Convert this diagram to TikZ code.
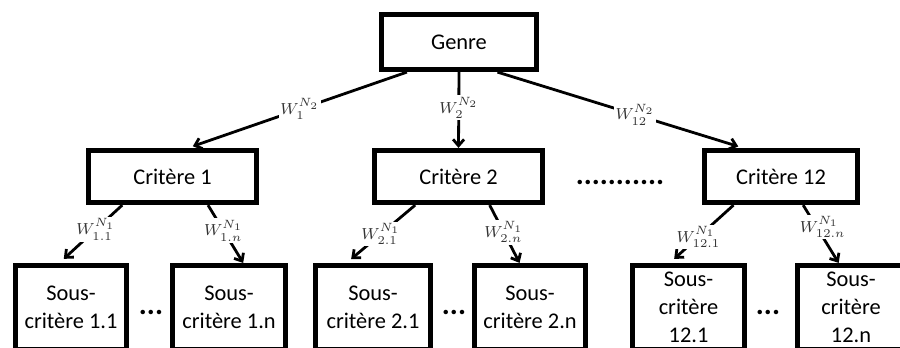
\documentclass[tikz,border=0pt]{standalone}
\usepackage{fontspec}
\setmainfont{Carlito}
\usetikzlibrary{calc,arrows.meta}
\begin{document}
\begin{tikzpicture}[x=0.5pt,y=-0.5pt,
  box/.style={draw,line width=2.6pt,rectangle,inner sep=1pt,align=center,
    font=\fontsize{11.2}{14}\selectfont},
  sub/.style={box,minimum height=42pt},
  conn/.style={line width=1.4pt,-{Straight Barb[length=3.2pt,width=5.5pt]}},
  wlab/.style={fill=white,inner sep=0.8pt,text=black!80,font=\fontsize{8.5}{9}\selectfont},
  dotsnode/.style={inner sep=0pt,font=\fontsize{15}{15}\selectfont\bfseries}]
\useasboundingbox (0,0) rectangle (900,348);
\clip (0,0) rectangle (900,348);
\node[box,minimum width=77.5pt,minimum height=27.5pt] (genre) at (459,42) {Genre};
\node[box,minimum width=84pt,minimum height=26pt] (c1) at (172.5,176.5) {Critère 1};
\node[box,minimum width=84pt,minimum height=26pt] (c2) at (458.5,176.5) {Critère 2};
\node[box,minimum width=76.5pt,minimum height=26pt] (c12) at (781,176.5) {Critère 12};
\node[dotsnode] (bigdots) at (620,182) {...........};
\node[sub,minimum width=55.5pt] (s11) at (71,307.5) {Sous-\\critère 1.1};
\node[sub,minimum width=56.5pt] (s1n) at (229,307.5) {Sous-\\critère 1.n};
\node[sub,minimum width=57.5pt] (s21) at (373,307.5) {Sous-\\critère 2.1};
\node[sub,minimum width=55.5pt] (s2n) at (530,307.5) {Sous-\\critère 2.n};
\node[sub,minimum width=56pt] (s121) at (688.5,307.5) {Sous-\\critère\\12.1};
\node[sub,minimum width=53.5pt] (s12n) at (851,307.5) {Sous-\\critère\\12.n};
\node[dotsnode] (d1) at (151,312) {...};
\node[dotsnode] (d2) at (454,312) {...};
\node[dotsnode] (d3) at (768,312) {...};
% top level
\draw[conn,shorten >=2.5pt] ($(genre.south west)!0.175!(genre.south east)$) --
  node[wlab,pos=0.49] {$W_1^{N_2}$} ($(c1.north west)!0.59!(c1.north east)$);
\draw[conn] (genre.south) -- node[wlab,pos=0.47] {$W_2^{N_2}$} (c2.north);
\draw[conn,shorten >=2.5pt] ($(genre.south west)!0.74!(genre.south east)$) --
  node[wlab,pos=0.56] {$W_{12}^{N_2}$} ($(c12.north west)!0.26!(c12.north east)$);
% second level
\draw[conn,shorten >=3pt] ($(c1.south west)!0.21!(c1.south east)$) --
  node[wlab,pos=0.42] {$W_{1.1}^{N_1}$} ($(s11.north west)!0.4!(s11.north east)$);
\draw[conn] ($(c1.south west)!0.705!(c1.south east)$) --
  node[wlab,pos=0.44] {$W_{1.n}^{N_1}$} ($(s1n.north west)!0.62!(s1n.north east)$);
\draw[conn,shorten >=3pt] ($(c2.south west)!0.25!(c2.south east)$) --
  node[wlab,pos=0.5] {$W_{2.1}^{N_1}$} ($(s21.north west)!0.28!(s21.north east)$);
\draw[conn] ($(c2.south west)!0.68!(c2.south east)$) --
  node[wlab,pos=0.47] {$W_{2.n}^{N_1}$} ($(s2n.north west)!0.41!(s2n.north east)$);
\draw[conn,shorten >=3pt] ($(c12.south west)!0.2!(c12.south east)$) --
  node[wlab,pos=0.55] {$W_{12.1}^{N_1}$} ($(s121.north west)!0.34!(s121.north east)$);
\draw[conn] ($(c12.south west)!0.64!(c12.south east)$) --
  node[wlab,pos=0.38,xshift=3pt] {$W_{12.n}^{N_1}$} ($(s12n.north west)!0.39!(s12n.north east)$);
\end{tikzpicture}
\end{document}
